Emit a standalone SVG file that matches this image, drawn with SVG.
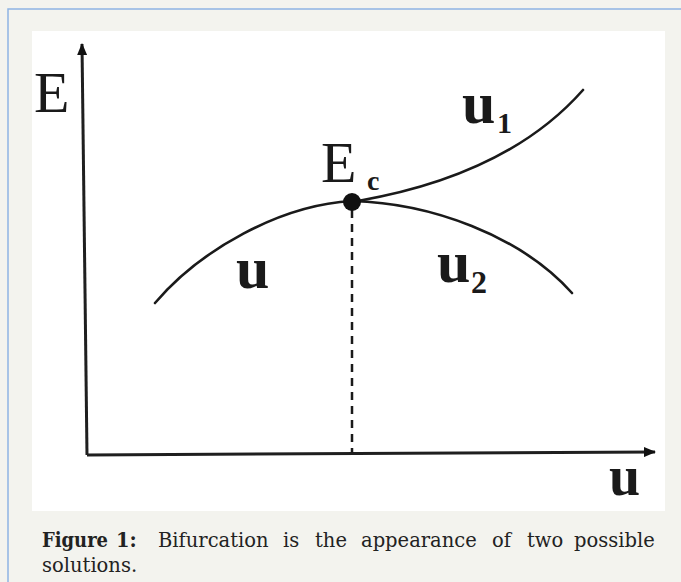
<svg xmlns="http://www.w3.org/2000/svg" width="681" height="582" viewBox="0 0 681 582">
<style>
.lbl{font-family:"Liberation Serif","Times New Roman",serif;fill:#1a1a1a}
.curve{fill:none;stroke:#1a1a1a;stroke-width:2.6;stroke-linecap:round}
.axis{fill:none;stroke:#1f1f1f;stroke-width:3}
.cap{font-family:"DejaVu Serif","Liberation Serif",serif;font-size:19.5px;fill:#222}
</style>
<defs>
<marker id="arr" viewBox="0 0 12 10" refX="11" refY="5" markerWidth="12" markerHeight="10" markerUnits="userSpaceOnUse" orient="auto">
<path d="M0,0 L12,5 L0,10 Z" fill="#111"/>
</marker>
</defs>
<rect x="0" y="0" width="681" height="582" fill="#f3f3ee"/>
<path d="M8,582 V9 H681" fill="none" stroke="#8fb4e3" stroke-width="1.5"/>
<rect x="32" y="31" width="633" height="480" fill="#ffffff"/>
<g id="connectors">
<path class="axis" d="M87,455 L82,44" marker-end="url(#arr)"/>
<path class="axis" d="M87,455 L655,452" marker-end="url(#arr)"/>
<path class="curve" d="M155,303 C200,250 280,205 352,201 C430,203 520,235 572,293"/>
<path class="curve" d="M358,201 C450,185 530,150 583,90"/>
<path d="M352,210 V453" stroke="#1a1a1a" stroke-width="2.5" stroke-dasharray="8 6" fill="none"/>
</g>
<g id="node-Ec">
<circle cx="352" cy="202" r="9" fill="#111"/>
<text class="lbl" x="321" y="182" font-size="58">E</text>
<text class="lbl" x="367" y="190" font-size="28" font-weight="bold">c</text>
</g>
<g id="node-E"><text class="lbl" x="34" y="112" font-size="58">E</text></g>
<g id="node-u"><text class="lbl" x="236" y="288" font-size="60" font-weight="bold">u</text></g>
<g id="node-u1"><text class="lbl" x="462" y="123" font-size="60" font-weight="bold">u</text><text class="lbl" x="497" y="133" font-size="30" font-weight="bold">1</text></g>
<g id="node-u2"><text class="lbl" x="437" y="282" font-size="60" font-weight="bold">u</text><text class="lbl" x="471" y="293" font-size="32" font-weight="bold">2</text></g>
<g id="node-uaxis"><text class="lbl" x="609" y="495" font-size="56" font-weight="bold">u</text></g>
<g id="caption">
<text class="cap" y="547"><tspan x="42" font-weight="bold" textLength="66" lengthAdjust="spacingAndGlyphs">Figure</tspan><tspan x="116" font-weight="bold">1:</tspan><tspan x="158">Bifurcation</tspan><tspan x="283">is</tspan><tspan x="315">the</tspan><tspan x="361">appearance</tspan><tspan x="492">of</tspan><tspan x="527">two</tspan><tspan x="574">possible</tspan></text>
<text class="cap" x="42" y="572">solutions.</text>
</g>
</svg>
